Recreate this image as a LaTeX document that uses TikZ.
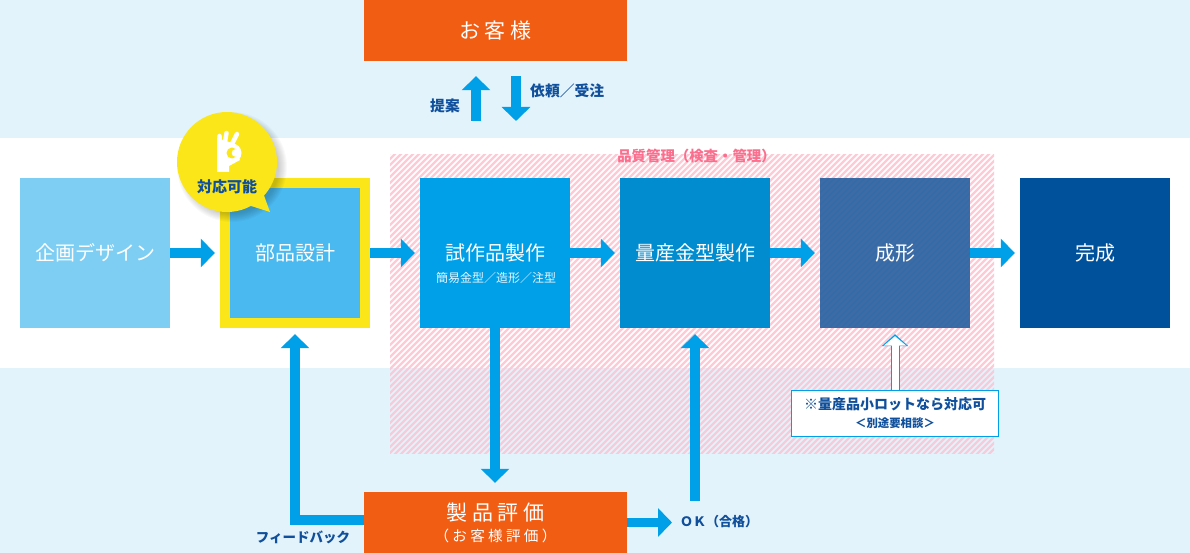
\documentclass[tikz,border=0pt]{standalone}
\usepackage{fontspec}
\setmainfont{Noto Sans CJK JP}
\usetikzlibrary{arrows.meta,positioning}
\definecolor{bandblue}{HTML}{E3F3FB}
\definecolor{flowblue}{HTML}{00A0E9}
\definecolor{inkblue}{HTML}{0F4F9B}
\definecolor{planblue}{HTML}{7ECEF4}
\definecolor{partblue}{HTML}{4AB9EF}
\definecolor{moldblue}{HTML}{008CCF}
\definecolor{formblue}{HTML}{336BA8}
\definecolor{doneblue}{HTML}{00519C}
\definecolor{custorange}{HTML}{F15D13}
\definecolor{okyellow}{HTML}{FAE619}
\definecolor{qcpink}{HTML}{FB6F8E}
\definecolor{hatchtop}{HTML}{FFC9D5}
\definecolor{hatchlow}{HTML}{F9CBDA}
\tikzset{
  stage/.style={minimum width=150pt,minimum height=150pt,inner sep=0pt,text=white,font=\fontsize{20}{24}\selectfont,align=center},
  orangebox/.style={fill=custorange,minimum width=263pt,minimum height=61pt,inner sep=0pt,text=white,align=center},
  flow/.style={draw=flowblue,line width=9.5pt,-{Triangle[length=14pt,width=28pt]},shorten >=5pt},
  label/.style={text=inkblue,font=\fontsize{14.8}{17}\selectfont\bfseries,inner sep=0pt},
}
\begin{document}
\begin{tikzpicture}[x=1pt,y=-1pt,line join=miter]
\useasboundingbox (0,0) rectangle (1190,553);
% bands
\fill[bandblue] (0,0) rectangle (1190,138);
\fill[bandblue] (0,368) rectangle (1190,553);
% hatching
\foreach \ya/\yb/\c in {155/368/hatchtop,368/453/hatchlow}{
\begin{scope}
\clip (390,\ya) rectangle (994,\yb);
\foreach \i in {0,...,160}
  \draw[\c,line width=2.2pt] (60+6*\i,465)--++(320,-320);
\end{scope}
}
% stages
\node[stage,fill=planblue] (plan) at (95,253) {企画デザイン};
\node[stage,fill=okyellow] (partsframe) at (295,253) {};
\node[stage,fill=partblue,minimum width=130pt,minimum height=130pt] (parts) at (295,253) {部品設計};
\node[stage,fill=flowblue] (proto) at (495,253) {};
\node[text=white,font=\fontsize{20}{24}\selectfont,inner sep=0pt] (prototext) at (495.5,253) {試作品製作};
\node[text=white,font=\fontsize{12}{14}\selectfont,inner sep=0pt,opacity=.9] (protosub) at (496,278) {簡易金型／造形／注型};
\node[stage,fill=moldblue] (mold) at (695,253) {量産金型製作};
\node[stage,fill=formblue] (form) at (895,253) {};
\begin{scope}
\clip (820,178) rectangle (970,328);
\foreach \i in {0,...,70}
  \draw[qcpink,opacity=.05,line width=2.2pt] (640+6*\i,340)--++(200,-200);
\end{scope}
\node[text=white,font=\fontsize{20}{24}\selectfont,inner sep=0pt] (formtext) at (895,253) {成形};
\node[stage,fill=doneblue] (done) at (1095,253) {完成};
\node[text=qcpink,font=\fontsize{14.4}{17}\selectfont\bfseries,inner sep=0pt] (qc) at (696.5,156) {品質管理（検査・管理）};
% customer and evaluation
\node[orangebox,font=\fontsize{21}{24}\selectfont] (customer) at (495.5,30.5) {お 客 様};
\node[orangebox,font=\fontsize{14.6}{21}\selectfont] (eval) at (495.5,522.5) {{\fontsize{21}{24}\selectfont 製 品 評 価}\\{（ お 客 様 評 価 ）}};
% note
\node[draw=flowblue,fill=white,line width=1pt,minimum width=207pt,minimum height=46pt,inner sep=0pt,align=center,text=inkblue,font=\fontsize{14}{18}\selectfont\bfseries] (note) at (895,413)
  {※量産品小ロットなら対応可\\{\fontsize{11.4}{13}\selectfont ＜別途要相談＞}};
% arrows
\coordinate (teian) at (476,121);
\coordinate (irai) at (516,121);
\coordinate (okstart) at (695,501);
\coordinate (okend) at (672,522.5);
\coordinate (fbturn) at (295,520);
\draw[flow,shorten >=15pt] (teian) -- (teian |- customer.south);
\draw[flow,shorten >=0pt,shorten <=15pt] (irai |- customer.south) -- (irai);
\draw[flow] (plan) -- (partsframe);
\draw[flow] (partsframe) -- (proto);
\draw[flow] (proto) -- (mold);
\draw[flow] (mold) -- (form);
\draw[flow] (form) -- (done);
\draw[flow,shorten >=9pt] (proto.south) -- (eval.north -| proto.south);
\draw[flow,shorten >=6pt] (eval.west |- fbturn) -| (partsframe.south);
\draw[flow,shorten >=6pt] (okstart) -- (mold.south);
\draw[flow,shorten >=0pt] (eval.east) -- (okend);
\draw[flowblue,line width=9pt,-{Triangle[length=12pt,width=26pt]},shorten >=6pt] (note.north) -- (form.south);
\draw[white,line width=7pt,-{Triangle[length=9.5pt,width=22pt]},shorten >=8pt] (note.north) -- (form.south);
% labels
\node[label] (teianlabel) at (445,106) {提案};
\node[label,anchor=west] (irailabel) at (530,91) {依頼／受注};
\node[label,font=\fontsize{13.5}{16}\selectfont\bfseries] (fblabel) at (303,537) {フィードバック};
\node[label,anchor=west,font=\fontsize{13}{16}\selectfont\bfseries] (oklabel) at (680,522) {ＯＫ（合格）};
% speech bubble
\foreach \r in {55,54,...,47}
  \fill[black,opacity=.025] (232,167) circle (\r);
\fill[okyellow] (227,162) circle (50);
\fill[okyellow] (248,205) -- (270,212) -- (262,190) -- cycle;
\node[text=inkblue,font=\fontsize{15}{17}\selectfont\bfseries,inner sep=0pt] (oklogo) at (227,187) {対応可能};
% hand
\fill[white] (217,172) -- (217,138) -- (232,143) -- (240,160) -- (229,166) -- (229,172) -- cycle;
\draw[white,line width=4.5pt,line cap=round] (219.5,150)--(219.5,136) (224,148)--(226.5,133) (230,148)--(237,134);
\fill[white] (232,153) circle (9.5);
\fill[okyellow] (232,153) circle (5.5);
\fill[white] (235.5,153) circle (3.8);
\end{tikzpicture}
\end{document}
